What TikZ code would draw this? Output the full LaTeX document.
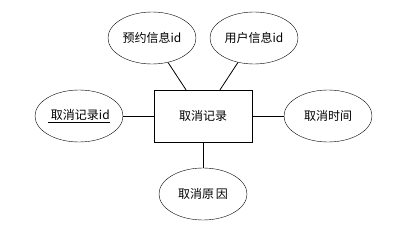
\documentclass[tikz,border=0pt]{standalone}
\usepackage{fontspec}
\setmainfont{Liberation Sans}
\newfontfamily\cjk{Noto Sans CJK SC}
\usetikzlibrary{shapes.geometric}
\begin{document}
\begin{tikzpicture}[x=1pt,y=-1pt,
  attr/.style={draw, ellipse, minimum width=88pt, minimum height=52pt, inner sep=0pt, font=\cjk\fontsize{12}{14}\selectfont},
  ent/.style={draw, rectangle, minimum width=98pt, minimum height=52pt, inner sep=0pt, font=\cjk\fontsize{12}{14}\selectfont},
  conn/.style={draw, line width=0.8pt}]
\useasboundingbox (0,0) rectangle (405,233);
\node[ent] (r) at (203,116) {取消记录};
\node[attr] (e1) at (152,38) {预约信息id};
\node[attr] (e2) at (254,38) {用户信息id};
\node[attr] (e3) at (79,116) {\underline{\ 取消记录id}};
\node[attr] (e4) at (328,116) {取消时间};
\node[attr] (e5) at (203,194) {取消原\hspace{2pt}因};
\draw[conn] (e1) -- (r.123);
\draw[conn] (e2) -- (r.57);
\draw[conn] (e3) -- (r);
\draw[conn] (e4) -- (r);
\draw[conn] (e5) -- (r);
\end{tikzpicture}
\end{document}
